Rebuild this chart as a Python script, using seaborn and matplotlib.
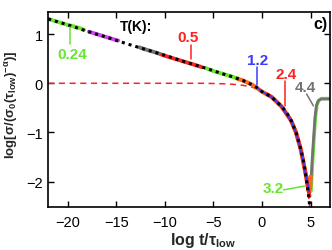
import numpy as np
import pandas as pd
import matplotlib
matplotlib.use("Agg")
import matplotlib.pyplot as plt
import seaborn as sns

# master curve (black dotted)
master_x = [-22, -20, -18, -16, -14, -12, -10, -8, -6, -4, -3, -2, -1, -0.5, 0, 1, 2, 2.5, 3, 3.5, 4, 4.3, 4.6, 4.8, 5.0]
master_y = [1.31, 1.19, 1.06, 0.94, 0.81, 0.69, 0.57, 0.44, 0.32, 0.19, 0.13, 0.06, -0.03, -0.09, -0.17, -0.28, -0.47,
            -0.58, -0.76, -1.0, -1.35, -1.61, -2.0, -2.3, -2.65]

# red dashed curve
dashed_x = [-22, -6, -4, -3, -2, -1, -0.5, 0, 1, 2, 3, 3.5, 4, 4.3, 4.6, 4.8, 5.0]
dashed_y = [0, 0, -0.01, -0.02, -0.04, -0.08, -0.12, -0.17, -0.28, -0.47, -0.76, -1.0, -1.35, -1.61, -2.0, -2.3, -2.65]

# coloured segments, one per temperature
t024_x = [-22, -21, -20, -19, -18.3]
t024_y = [1.31, 1.25, 1.19, 1.14, 1.09]
tmag_x = [-17.8, -17, -16, -15, -14.8]
tmag_y = [1.05, 1.00, 0.94, 0.88, 0.87]
tgray_x = [-12.6, -12, -11, -10.4]
tgray_y = [0.73, 0.69, 0.63, 0.59]
t05_x = [-10.3, -9, -8, -7, -6.2]
t05_y = [0.58, 0.50, 0.44, 0.38, 0.33]
tgrn_x = [-5.8, -5, -4, -3, -2.4]
tgrn_y = [0.31, 0.25, 0.19, 0.13, 0.09]
torg_x = [-2.5, -2, -1, 0, 1, 2, 3, 3.5, 4, 4.5, 4.8, 4.95, 5.0]
torg_y = [0.09, 0.06, -0.03, -0.17, -0.28, -0.47, -0.76, -1.0, -1.35, -1.85, -2.2, -2.1, -1.9]
t12_x = [-0.5, 0, 1, 2, 3, 3.5, 4, 4.5, 4.85]
t12_y = [-0.09, -0.17, -0.28, -0.47, -0.76, -1.0, -1.35, -1.85, -2.2]
t24_x = [0.5, 1, 2, 3, 3.5, 4, 4.5, 4.9]
t24_y = [-0.22, -0.28, -0.47, -0.76, -1.0, -1.35, -1.85, -2.3]
t32_x = [3, 3.5, 4, 4.5, 4.8, 5.05, 5.2, 5.35, 5.5, 5.65, 5.85, 6.1, 7]
t32_y = [-0.76, -1.0, -1.35, -1.85, -2.15, -2.2, -1.65, -1.15, -0.7, -0.45, -0.35, -0.31, -0.31]
t44_x = [3, 3.5, 4, 4.5, 4.8, 5.0, 5.15, 5.3, 5.45, 5.6, 5.8, 6.1, 7]
t44_y = [-0.76, -1.0, -1.35, -1.85, -2.1, -2.15, -1.6, -1.14, -0.7, -0.45, -0.35, -0.32, -0.32]

GREEN = "#66e62e"
RED = "#ff2020"
BLUE = "#3a3aff"
GRAY = "#737373"
MAG = "#cc44ee"
ORANGE = "#ff6a1a"

sns.set_theme(style="ticks")
plt.rcParams['font.family'] = ['Liberation Sans', 'DejaVu Sans']
plt.rcParams['mathtext.default'] = 'regular'

fig, ax = plt.subplots(figsize=(3.32, 2.51), dpi=100)
fig.subplots_adjust(left=0.145, right=0.994, bottom=0.171, top=0.948)

def seg(x, y, color, lw, ls="-"):
    sns.lineplot(data=pd.DataFrame({"x": x, "y": y}), x="x", y="y", ax=ax, sort=False,
                 color=color, lw=lw, linestyle=ls, legend=False)

seg(dashed_x, dashed_y, RED, 1.1, (0, (4, 3)))
seg(t024_x, t024_y, GREEN, 2.8)
seg(tmag_x, tmag_y, MAG, 2.8)
seg(tgray_x, tgray_y, GRAY, 2.8)
seg(t05_x, t05_y, RED, 2.8)
seg(tgrn_x, tgrn_y, GREEN, 2.8)
seg(t32_x, t32_y, GREEN, 2.4)
seg(t44_x, t44_y, GRAY, 2.0)
seg(torg_x, torg_y, ORANGE, 3.0)
seg(t24_x, t24_y, RED, 2.6)
seg(t12_x, t12_y, BLUE, 1.4)
sns.lineplot(x=master_x, y=master_y, ax=ax, sort=False, color="black", lw=2.2,
             linestyle=(0, (1, 1.3)), legend=False)

ax.set_xlim(-22, 7)
ax.set_ylim(-2.52, 1.45)
ax.set_xticks([-20, -15, -10, -5, 0, 5])
ax.set_yticks([-2, -1, 0, 1])
ax.tick_params(direction="in", top=True, right=True, length=4, width=1, labelsize=10.5,
               color="black", labelcolor="black")
ax.tick_params(axis="x", pad=6)
ax.tick_params(axis="y", pad=4)
for s in ax.spines.values():
    s.set_linewidth(1.2)
    s.set_color("black")

ax.set_xlabel(r"log t/τ$_{low}$", fontsize=11.5, fontweight="bold")
ax.set_ylabel(r"log[σ/(σ$_0$(τ$_{low}$)$^{-α}$)]", fontsize=9.5, fontweight="bold")
ax.xaxis.set_label_coords(0.55, -0.12)
ax.yaxis.set_label_coords(-0.1, 0.53)

bold = dict(fontweight="bold", ha="center", va="center")
ax.text(-12.95, 1.165, "T(K):", fontsize=10, color="black", **bold)
ax.text(5.98, 1.21, "c)", fontsize=11.5, color="black", **bold)

ax.text(-19.5, 0.595, "0.24", fontsize=11, color=GREEN, **bold)
ax.plot([-19.74, -19.74], [1.14, 0.80], color=GREEN, lw=1.1)
ax.text(-7.6, 0.94, "0.5", fontsize=11, color=RED, **bold)
ax.plot([-7.32, -7.32], [0.78, 0.49], color=RED, lw=1.1)
ax.text(-0.45, 0.47, "1.2", fontsize=11, color=BLUE, **bold)
ax.plot([-0.53, -0.53], [0.33, -0.03], color=BLUE, lw=1.1)
ax.text(2.49, 0.185, "2.4", fontsize=11, color=RED, **bold)
ax.plot([2.38, 2.38], [0.045, -0.46], color=RED, lw=1.1)
ax.text(4.44, -0.08, "4.4", fontsize=11, color=GRAY, **bold)
ax.plot([4.6, 5.29], [-0.22, -0.46], color=GRAY, lw=1.1)
ax.text(1.15, -2.13, "3.2", fontsize=11, color=GREEN, **bold)
ax.plot([2.21, 4.44], [-2.17, -2.09], color=GREEN, lw=1.1)

fig.savefig("out.png", dpi=100)
